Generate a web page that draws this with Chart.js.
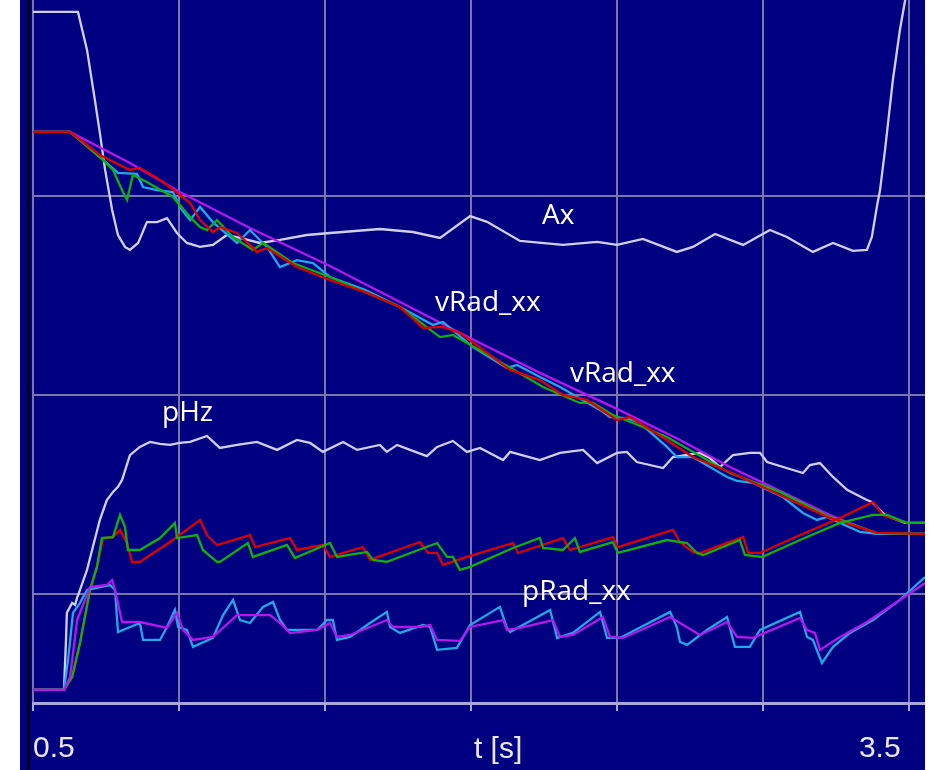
<!DOCTYPE html>
<html>
<head>
<meta charset="utf-8">
<script src="https://cdn.jsdelivr.net/npm/chart.js@4"></script>
<style>
  html, body { margin: 0; padding: 0; background: #ffffff; width: 929px; height: 770px; overflow: hidden; }
  #wrap { position: absolute; left: 20px; top: 0; width: 905px; height: 770px; background: #000080; }
</style>
</head>
<body>
<div id="wrap"><canvas id="chart" width="905" height="770"></canvas></div>
<script>
// time axis [s] and the three horizontal grid levels
const xTicks = [0.5, 1.0, 1.5, 2.0, 2.5, 3.0, 3.5];
const yGrid = [100, 200, 300];

// signals, [t, value]
const axData = [[0.5,392.5],[0.654,392.5],[0.685,373.4],[0.712,348.2],[0.729,331.7],[0.747,313.1],[0.771,293.0],[0.791,280.4],[0.815,274.4],[0.832,272.9],[0.860,276.4],[0.890,286.9],[0.925,286.9],[0.959,288.9],[0.993,281.4],[1.027,276.4],[1.072,274.4],[1.116,275.4],[1.164,280.4],[1.209,278.9],[1.277,276.4],[1.346,277.9],[1.438,280.4],[1.517,281.4],[1.603,282.4],[1.688,283.4],[1.801,281.9],[1.894,278.9],[1.997,289.9],[2.055,287.0],[2.168,277.4],[2.315,275.4],[2.432,276.9],[2.500,275.4],[2.589,278.4],[2.705,271.9],[2.760,274.4],[2.836,280.9],[2.932,275.4],[3.024,282.9],[3.082,279.4],[3.171,271.9],[3.240,276.4],[3.308,272.4],[3.356,272.9],[3.373,279.4],[3.390,294.5],[3.401,303.0],[3.418,323.1],[3.445,358.3],[3.469,383.4],[3.490,401.0]];

const vRadMagenta = [[0.5,332.2],[0.627,332.2],[0.832,316.6],[1.003,302.0],[1.243,283.9],[1.517,264.8],[1.757,246.7],[1.997,228.6],[2.236,211.1],[2.5,193.0],[2.716,177.4],[2.887,163.8],[3.058,151.8],[3.229,139.7],[3.390,130.2],[3.555,130.2]];
const vRadCyan = [[0.5,332.2],[0.627,332.2],[0.729,319.6],[0.791,311.6],[0.856,311.1],[0.877,304.5],[0.925,303.0],[0.979,302.0],[1.010,293.0],[1.038,287.9],[1.072,294.5],[1.116,286.9],[1.199,276.4],[1.243,282.9],[1.301,274.4],[1.346,264.3],[1.404,267.8],[1.459,266.3],[1.517,259.3],[1.637,252.8],[1.757,244.2],[1.870,235.2],[1.904,236.7],[2.007,224.1],[2.123,213.6],[2.158,215.1],[2.236,209.0],[2.305,204.0],[2.442,192.5],[2.476,188.9],[2.534,188.4],[2.579,185.9],[2.671,173.9],[2.705,168.8],[2.760,168.8],[2.877,158.8],[2.911,156.8],[2.966,155.8],[3.068,148.7],[3.137,140.7],[3.185,137.2],[3.219,138.7],[3.264,135.7],[3.332,131.2],[3.390,130.2],[3.555,130.2]];
const vRadRed = [[0.5,332.2],[0.627,332.2],[0.729,320.6],[0.832,313.1],[0.866,314.1],[0.925,309.0],[0.969,304.5],[1.003,300.5],[1.038,296.5],[1.072,287.9],[1.116,281.9],[1.140,284.4],[1.199,281.4],[1.267,271.9],[1.301,273.9],[1.404,264.3],[1.517,257.8],[1.637,251.8],[1.757,244.2],[1.836,233.7],[1.904,234.2],[1.962,231.2],[2.134,212.6],[2.236,207.5],[2.315,200.0],[2.397,197.5],[2.500,187.4],[2.545,188.9],[2.671,177.4],[2.760,168.8],[2.887,161.3],[3.058,149.7],[3.229,138.2],[3.390,130.7],[3.555,130.2]];
const vRadGreen = [[0.5,332.2],[0.627,332.2],[0.729,319.6],[0.774,313.1],[0.808,302.0],[0.822,298.0],[0.842,310.6],[0.890,307.0],[0.979,299.5],[1.003,295.5],[1.038,289.4],[1.072,284.4],[1.096,282.9],[1.130,287.9],[1.185,279.4],[1.253,272.9],[1.288,276.4],[1.390,266.3],[1.517,259.3],[1.637,251.8],[1.757,244.2],[1.894,229.1],[1.938,230.2],[2.089,217.6],[2.247,204.0],[2.373,196.0],[2.418,196.0],[2.486,189.9],[2.555,185.9],[2.671,178.9],[2.887,160.8],[3.058,151.3],[3.229,138.7],[3.390,130.7],[3.555,130.2]];

const pHzData = [[0.5,51.8],[0.606,51.8],[0.613,76.9],[0.616,90.5],[0.634,95.5],[0.644,94.5],[0.651,98.0],[0.661,102.0],[0.685,112.1],[0.705,123.6],[0.729,137.2],[0.753,147.2],[0.774,151.3],[0.791,153.8],[0.805,157.3],[0.832,169.8],[0.866,173.9],[0.901,176.4],[0.935,175.4],[0.969,174.9],[1.003,175.9],[1.038,176.4],[1.096,179.4],[1.140,173.4],[1.199,174.9],[1.267,176.4],[1.336,172.4],[1.404,177.4],[1.449,175.9],[1.493,171.4],[1.562,176.4],[1.610,172.4],[1.688,174.9],[1.712,171.4],[1.747,174.9],[1.791,172.4],[1.849,169.3],[1.884,173.9],[1.938,176.9],[1.986,171.4],[2.031,173.4],[2.110,167.3],[2.134,171.4],[2.236,167.3],[2.305,170.9],[2.384,172.4],[2.432,165.8],[2.500,170.9],[2.534,171.4],[2.568,166.3],[2.658,163.3],[2.692,168.8],[2.784,170.9],[2.818,168.3],[2.853,163.8],[2.897,169.8],[2.955,170.9],[2.990,170.9],[3.014,166.3],[3.137,160.8],[3.161,164.8],[3.195,165.8],[3.240,158.8],[3.288,152.3],[3.356,147.2],[3.373,146.2],[3.418,139.7],[3.486,135.7],[3.555,135.7]];

const pRadRed = [[0.5,51.8],[0.606,51.8],[0.634,58.3],[0.661,75.4],[0.695,102.0],[0.719,113.6],[0.740,128.1],[0.774,128.6],[0.798,132.2],[0.822,125.6],[0.839,116.1],[0.866,116.1],[0.969,126.1],[1.072,137.2],[1.096,129.6],[1.130,124.6],[1.243,129.6],[1.260,123.6],[1.380,128.1],[1.404,122.1],[1.493,124.6],[1.517,118.6],[1.630,123.6],[1.654,117.1],[1.825,126.1],[1.853,120.6],[1.884,120.6],[1.904,114.6],[1.986,118.6],[2.144,125.6],[2.161,120.6],[2.315,128.1],[2.339,122.1],[2.486,128.6],[2.503,123.6],[2.692,132.2],[2.716,126.1],[2.760,121.1],[2.784,120.6],[2.932,128.6],[2.949,120.6],[2.990,120.6],[3.127,129.6],[3.264,138.2],[3.377,146.2],[3.411,139.7],[3.493,135.7],[3.555,135.7]];
const pRadGreen = [[0.5,51.8],[0.606,51.8],[0.634,58.3],[0.661,75.4],[0.695,102.0],[0.719,113.6],[0.736,128.1],[0.774,128.6],[0.798,139.7],[0.815,133.7],[0.825,122.1],[0.866,122.1],[0.935,128.1],[0.986,135.7],[0.993,128.1],[1.062,129.6],[1.082,122.1],[1.130,116.1],[1.140,116.1],[1.236,125.6],[1.253,118.6],[1.370,124.6],[1.397,118.1],[1.517,125.6],[1.541,118.6],[1.644,121.1],[1.664,117.1],[1.712,116.1],[1.884,125.6],[1.918,118.6],[1.938,118.6],[1.962,112.1],[1.997,113.6],[2.144,123.1],[2.236,128.1],[2.247,123.1],[2.315,122.1],[2.356,128.1],[2.373,121.1],[2.486,126.1],[2.503,120.6],[2.671,127.1],[2.740,125.6],[2.774,120.6],[2.795,119.6],[2.921,127.1],[2.938,119.6],[2.997,118.6],[3.127,127.1],[3.264,135.7],[3.377,139.7],[3.425,139.7],[3.493,135.7],[3.555,135.7]];
const pRadCyan = [[0.5,51.8],[0.606,51.8],[0.620,66.8],[0.637,90.5],[0.661,95.5],[0.685,102.0],[0.764,104.5],[0.781,102.0],[0.791,80.9],[0.866,85.4],[0.877,76.9],[0.935,76.9],[0.959,83.4],[0.986,92.0],[0.997,83.4],[1.027,81.9],[1.048,73.4],[1.116,77.9],[1.151,89.4],[1.185,97.0],[1.209,86.9],[1.243,85.4],[1.288,93.5],[1.322,96.0],[1.346,86.9],[1.370,81.9],[1.473,81.9],[1.507,86.9],[1.527,86.9],[1.541,76.9],[1.586,78.4],[1.654,85.4],[1.712,91.0],[1.723,83.4],[1.757,80.4],[1.836,84.4],[1.860,83.4],[1.884,71.9],[1.952,72.9],[1.997,84.4],[2.099,93.5],[2.123,82.9],[2.134,80.9],[2.271,92.0],[2.295,77.9],[2.349,80.4],[2.442,91.0],[2.466,77.9],[2.510,77.9],[2.682,91.0],[2.705,83.4],[2.716,75.9],[2.740,74.4],[2.808,81.9],[2.877,88.4],[2.904,73.4],[2.955,73.4],[2.990,81.9],[3.127,91.0],[3.151,78.4],[3.171,76.9],[3.202,65.3],[3.240,73.4],[3.298,80.4],[3.377,86.9],[3.469,97.0],[3.555,108.5]];
const pRadMagenta = [[0.5,51.8],[0.606,51.8],[0.627,58.3],[0.651,86.9],[0.695,103.5],[0.753,104.5],[0.771,107.0],[0.781,102.0],[0.805,85.9],[0.866,85.9],[0.959,82.9],[0.993,90.5],[1.014,81.9],[1.048,76.9],[1.116,78.4],[1.199,89.4],[1.312,89.4],[1.346,85.4],[1.380,80.4],[1.473,81.9],[1.517,85.4],[1.541,78.4],[1.586,79.4],[1.712,86.9],[1.733,83.4],[1.825,83.4],[1.860,84.4],[1.884,76.9],[1.962,76.4],[1.997,83.4],[2.110,86.9],[2.123,81.9],[2.168,82.9],[2.281,86.9],[2.305,78.4],[2.349,79.4],[2.452,88.4],[2.476,78.4],[2.521,77.9],[2.682,88.4],[2.716,85.4],[2.784,79.4],[2.877,85.9],[2.911,78.4],[2.966,77.9],[3.127,87.9],[3.151,81.9],[3.178,80.4],[3.195,71.9],[3.264,78.4],[3.356,85.9],[3.469,97.0],[3.555,105.5]];

// text labels inside the plot, [text, t, value]
const plotLabels = [['Ax', 2.243, 285.9], ['vRad_xx', 1.877, 242.2], ['vRad_xx', 2.339, 206.5], ['pHz', 0.942, 186.9], ['pRad_xx', 2.175, 97.0]];
const xTitle = 't [s]';

const LAV = '#cfcff0', RED = '#e00000', GRN = '#10b010', CYN = '#20a8e8', MAG = '#b418e8';

function pts(arr) { return arr.map(p => ({ x: p[0], y: p[1] })); }
function ds(arr, color) { return { data: pts(arr), borderColor: color, borderWidth: 2.3, pointRadius: 0, tension: 0, fill: false }; }

const overlay = {
  id: 'overlay',
  afterDraw(chart) {
    const ctx = chart.ctx, xs = chart.scales.x, ys = chart.scales.y;
    ctx.save();
    // dark axis line on the left edge
    ctx.strokeStyle = '#000000';
    ctx.lineWidth = 2.5;
    ctx.beginPath(); ctx.moveTo(8, 0); ctx.lineTo(8, chart.height); ctx.stroke();
    // signal names
    ctx.fillStyle = '#ffffff';
    ctx.font = '28px "Open Sans"';
    ctx.textAlign = 'left';
    ctx.textBaseline = 'alphabetic';
    plotLabels.forEach(l => ctx.fillText(l[0], xs.getPixelForValue(l[1]), ys.getPixelForValue(l[2])));
    // axis title sits on the tick label row
    ctx.fillStyle = '#e8e8f4';
    ctx.font = '30px "Liberation Sans"';
    ctx.fillText(xTitle, xs.getPixelForValue(2.010), chart.chartArea.bottom + 55);
    ctx.restore();
  }
};

new Chart(document.getElementById('chart'), {
  type: 'line',
  data: {
    datasets: [
      ds(pRadMagenta, MAG), ds(pRadCyan, CYN), ds(pRadGreen, GRN), ds(pRadRed, RED),
      ds(vRadRed, RED), ds(vRadGreen, GRN), ds(vRadCyan, CYN), ds(vRadMagenta, MAG),
      ds(pHzData, LAV), ds(axData, LAV)
    ]
  },
  options: {
    responsive: false,
    animation: false,
    layout: { padding: { left: 13, right: 0, top: 0, bottom: 0 } },
    plugins: { legend: { display: false }, tooltip: { enabled: false } },
    scales: {
      x: {
        type: 'linear', min: 0.5, max: 3.555,
        afterBuildTicks: s => { s.ticks = xTicks.map(v => ({ value: v })); },
        afterFit: s => { s.height = 67; s.paddingLeft = 0; s.paddingRight = 0; },
        grid: { color: '#7878a8', lineWidth: 2, tickColor: '#a8a8e0', tickLength: 8, tickWidth: 2 },
        border: { color: '#a8a8e0', width: 3 },
        ticks: {
          color: '#e8e8f4', font: { family: 'Liberation Sans', size: 30 }, padding: 20,
          align: 'inner', maxRotation: 0, autoSkip: false,
          callback: v => v === 0.5 ? '0.5' : (v === 3.5 ? '3.5 ' : '')
        }
      },
      y: {
        min: 45.2, max: 398.5,
        afterBuildTicks: s => { s.ticks = yGrid.map(v => ({ value: v })); },
        afterFit: s => { s.width = 0; },
        ticks: { display: false },
        border: { display: false },
        grid: { color: '#7878a8', lineWidth: 2, drawTicks: false }
      }
    }
  },
  plugins: [overlay]
});
</script>
</body>
</html>
